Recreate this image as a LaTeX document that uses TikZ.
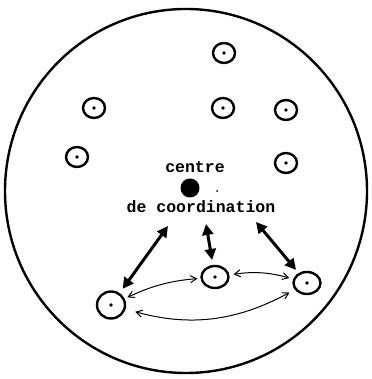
\documentclass[tikz,border=0pt]{standalone}
\usepackage{fontspec}
\newfontfamily\typefont{Liberation Mono}
\usetikzlibrary{shapes.geometric, arrows.meta, positioning}
\tikzset{
  cell/.style={
    ellipse, draw, line width=2.4pt, minimum width=22pt,
    minimum height=20pt, inner sep=0pt,
    path picture={\fill (path picture bounding box.center) circle (1.8pt);}
  },
  bigcell/.style={cell, minimum width=28pt, minimum height=27pt},
  midcell/.style={cell, minimum width=27pt, minimum height=22pt},
  lbl/.style={font=\typefont\bfseries\fontsize{16.5}{18}\selectfont, inner sep=0pt},
  link/.style={{Triangle[length=11pt,width=11pt]}-{Triangle[length=11pt,width=11pt]},
    line width=3pt},
  tie/.style={{Straight Barb[length=6pt,width=7pt]}-{Straight Barb[length=6pt,width=7pt]},
    line width=1pt}
}

\begin{document}
\begin{tikzpicture}[x=1pt, y=1pt]
  \useasboundingbox (0,0) rectangle (371,379);
  \draw[line width=2.4pt] (186,188) ellipse (181 and 182);

  \node[cell] (c1) at (224,326) {};
  \node[cell] (c2) at (94,271)  {};
  \node[cell] (c3) at (223,271) {};
  \node[cell] (c4) at (286,269) {};
  \node[cell] (c5) at (77,222)  {};
  \node[cell] (c6) at (286,216) {};

  \node[circle, fill, minimum size=19pt, inner sep=0pt] (core) at (190,191) {};
  \node[circle, fill, minimum size=2pt, inner sep=0pt] (speck) at (217,188) {};
  \node[lbl] (top) at (195,212) {centre};
  \node[lbl] (bot) at (201,172) {de coordination};

  \node[bigcell] (la) at (111,74)  {};
  \node[midcell] (lb) at (215,102) {};
  \node[midcell] (lc) at (307,96)  {};

  \coordinate (ca) at (168,153);
  \coordinate (cb) at (206,155);
  \coordinate (cc) at (256,157);

  \draw[link, shorten >=5pt] (ca) -- (la);
  \draw[link, shorten >=5pt] (cb) -- (lb);
  \draw[link, shorten >=4pt] (cc) -- (lc);

  \draw[tie, shorten <=3pt, shorten >=3pt] (la) to[bend left=10] (lb);
  \draw[tie, shorten <=4pt, shorten >=4pt] (lb) to[bend left=12] (lc);
  \draw[tie, shorten <=10pt, shorten >=6pt] (la) to[bend right=22] (lc);
\end{tikzpicture}
\end{document}
